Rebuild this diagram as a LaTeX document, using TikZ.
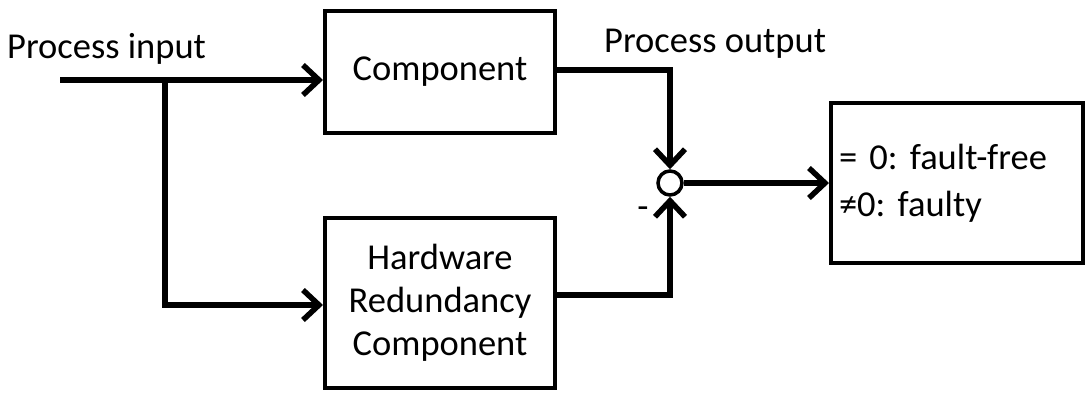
\documentclass[tikz,border=0pt]{standalone}
\usepackage{fontspec}
\setmainfont{Carlito}
\usetikzlibrary{arrows.meta}
\begin{document}
\frenchspacing
\begin{tikzpicture}[x=1pt,y=-1pt,
  font=\fontsize{36.5}{43}\selectfont,
  block/.style={draw,line width=4pt,inner sep=0pt,align=center},
  flow/.style={line width=5.5pt,-{Straight Barb[length=16pt,width=30pt,line width=5.5pt]}},
  lbl/.style={inner sep=0pt,anchor=base west}]
\useasboundingbox (0,0) rectangle (1086,392);
% blocks
\node[block,minimum width=230pt,minimum height=122pt] (comp) at (440,72) {Component};
\node[block,minimum width=230pt,minimum height=170pt] (hw) at (440,302.5)
  {Hardware\\Redundancy\\Component};
\node[block,minimum width=252pt,minimum height=160pt,align=left,text width=236pt,
  font=\fontsize{36.5}{47}\selectfont] (res) at (957,183)
  {= 0: fault-free\\{\char"2260}0: faulty};
% comparison point
\node[draw,circle,line width=3.5pt,minimum size=24pt,inner sep=0pt,fill=white] (sum) at (670,183) {};
% labels
\node[lbl] (pin) at (7,58) {Process input};
\node[lbl] (pout) at (604,52) {Process output};
\node[inner sep=0pt] (minus) at (643,213) {-};
% input side
\coordinate (start) at (60,80);
\coordinate (split) at (165,80);
\draw[flow] (start) -- (comp.west |- start);
\draw[flow] (split) |- (hw.west |- 0,305);
% outputs into the comparison point
\draw[flow] (comp.east |- 0,70) -| (sum.north);
\draw[flow] (hw.east |- 0,295) -| (sum.south);
\draw[flow] (sum.east) -- (res.west |- sum);
\end{tikzpicture}
\end{document}
